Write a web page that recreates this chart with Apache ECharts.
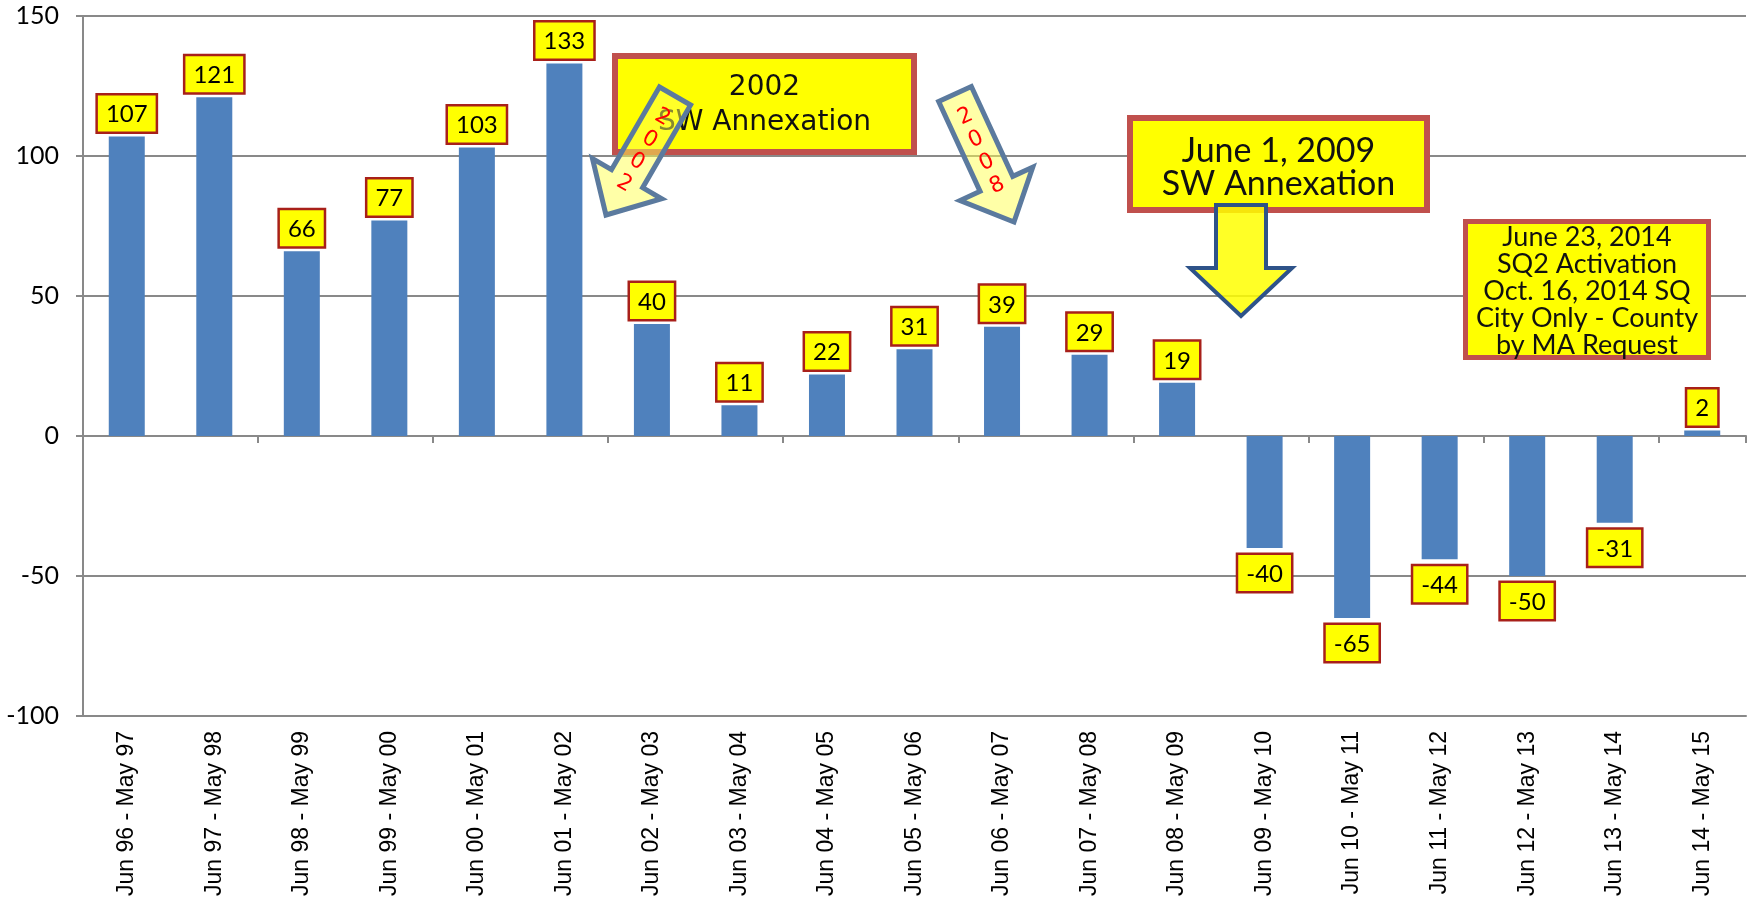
<!DOCTYPE html>
<html><head><meta charset="utf-8">
<script src="https://cdn.jsdelivr.net/npm/echarts@6/dist/echarts.min.js"></script>
<style>html,body{margin:0;padding:0;background:#fff}#c{width:1750px;height:900px}</style>
</head><body><div id="c"></div>
<script>
const categories = ['Jun 96 - May 97','Jun 97 - May 98','Jun 98 - May 99','Jun 99 - May 00','Jun 00 - May 01','Jun 01 - May 02','Jun 02 - May 03','Jun 03 - May 04','Jun 04 - May 05','Jun 05 - May 06','Jun 06 - May 07','Jun 07 - May 08','Jun 08 - May 09','Jun 09 - May 10','Jun 10 - May 11','Jun 11 - May 12','Jun 12 - May 13','Jun 13 - May 14','Jun 14 - May 15'];
const values = [107,121,66,77,103,133,40,11,22,31,39,29,19,-40,-65,-44,-50,-31,2];
const yMin = -100, yMax = 150, yInterval = 50;
const note2002 = ['2002','SW Annexation'];
const note2009 = ['June 1, 2009','SW Annexation'];
const note2014 = ['June 23, 2014','SQ2 Activation','Oct. 16, 2014 SQ','City Only - County','by MA Request'];
const arrowText2002 = '2002';
const arrowText2008 = '2008';

function arrowPts(tx,ty,px,py,sw,hw,hl){
  const dx=px-tx, dy=py-ty, L=Math.hypot(dx,dy);
  const ux=dx/L, uy=dy/L, nx=-uy, ny=ux;
  const bx=px-ux*hl, by=py-uy*hl;
  return [[tx+nx*sw/2,ty+ny*sw/2],[bx+nx*sw/2,by+ny*sw/2],[bx+nx*hw/2,by+ny*hw/2],[px,py],
          [bx-nx*hw/2,by-ny*hw/2],[bx-nx*sw/2,by-ny*sw/2],[tx-nx*sw/2,ty-ny*sw/2]];
}
function charsAlong(text,tx,ty,px,py,start,step,rot){
  const dx=px-tx, dy=py-ty, L=Math.hypot(dx,dy), ux=dx/L, uy=dy/L;
  return text.split('').map((ch,i)=>({
    type:'text', z:120, x:tx+ux*(start+i*step), y:ty+uy*(start+i*step), rotation:rot,
    style:{text:ch, fill:'#ff0000', font:'22px "DejaVu Sans"', textAlign:'center', textVerticalAlign:'middle', align:'center', verticalAlign:'middle'}
  }));
}
function box(x,y,w,h,lw,lines,font,lh,cy){
  const els=[{type:'rect', z:100, shape:{x:x+lw/2,y:y+lw/2,width:w-lw,height:h-lw}, style:{fill:'#ffff00', stroke:'#c0504d', lineWidth:lw}}];
  lines.forEach((t,i)=>els.push({type:'text', z:101, x:x+w/2, y:cy+i*lh,
    style:{text:t, fill:'#111', font:font, textAlign:'center', textVerticalAlign:'middle', align:'center', verticalAlign:'middle'}}));
  return els;
}

const labelBase = {show:true, color:'#000', fontFamily:'Lato', fontSize:24, lineHeight:26,
  backgroundColor:'#ffff00', borderColor:'#a8201a', borderWidth:2.5, padding:[6,8,4,8]};
const barData = values.map(v => ({value:v, label: v<0 ? {position:'bottom', distance:7} : {position:'top', distance:5}}));

const chart = echarts.init(document.getElementById('c'), null, {renderer:'canvas'});
const graphics = [].concat(
  box(612,53,305,102,6,note2002,'28px "DejaVu Sans"',35,88),
  [{type:'polygon', z:110, shape:{points:arrowPts(675,96,606,215,36,80,42)}, style:{fill:'rgba(255,255,80,0.5)', stroke:'#5b7a9e', lineWidth:5, lineJoin:'miter'}}],
  charsAlong(arrowText2002,675,96,606,215,25,25.5,-0.52),
  [{type:'polygon', z:110, shape:{points:arrowPts(955,94,1014,222,36,80,42)}, style:{fill:'rgba(255,255,80,0.5)', stroke:'#5b7a9e', lineWidth:5, lineJoin:'miter'}}],
  charsAlong(arrowText2008,955,94,1014,222,25,25.3,0.43),
  box(1127,115,303,98,6,note2009,'34px Lato',33,151),
  [{type:'polygon', z:110, shape:{points:arrowPts(1241,205,1241,316,50,102,48)}, style:{fill:'rgba(255,255,0,0.85)', stroke:'#2e5389', lineWidth:4, lineJoin:'miter'}}],
  box(1463,219,248,141,5,note2014,'27px Lato',27,237)
);

chart.setOption({
  animation:false,
  backgroundColor:'#fff',
  grid:{left:83, right:4, top:16, bottom:184, containLabel:false},
  xAxis:[{
    type:'category', data:categories, position:'bottom',
    axisLine:{show:true, onZero:false, lineStyle:{color:'#898989', width:2}},
    axisTick:{show:false},
    axisLabel:{rotate:90, margin:15, color:'#000', fontFamily:'"Liberation Sans", Arial', fontSize:23, interval:0}
  },{
    type:'category', data:categories, position:'top',
    axisLine:{show:true, onZero:true, lineStyle:{color:'#898989', width:2}},
    axisTick:{show:true, inside:true, length:7, lineStyle:{color:'#898989', width:2}},
    axisLabel:{show:false}
  }],
  yAxis:{
    type:'value', min:yMin, max:yMax, interval:yInterval,
    axisLine:{show:true, lineStyle:{color:'#898989', width:2}},
    axisTick:{show:true, length:7, lineStyle:{color:'#898989', width:2}},
    splitLine:{show:true, lineStyle:{color:'#898989', width:2}},
    axisLabel:{color:'#000', fontFamily:'Lato', fontSize:25, margin:24}
  },
  series:[{
    type:'bar', data:barData, barWidth:36, itemStyle:{color:'#4f81bd'},
    label:labelBase, xAxisIndex:0
  }],
  graphic:{elements:graphics}
});
</script></body></html>
